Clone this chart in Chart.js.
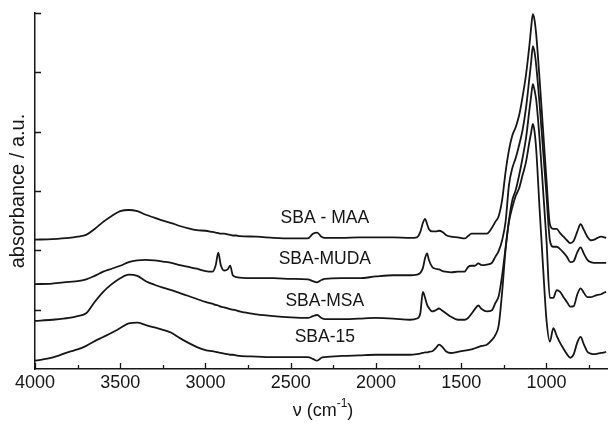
<!DOCTYPE html>
<html>
<head>
<meta charset="utf-8">
<script src="https://cdn.jsdelivr.net/npm/chart.js@4.4.0/dist/chart.umd.min.js"></script>
<style>
  html, body { margin: 0; padding: 0; background: #fff; }
  #wrap { width: 608px; height: 424px; }
</style>
</head>
<body>
<div id="wrap"><canvas id="chart" width="608" height="424"></canvas></div>
<script>
/* FTIR spectra (stacked, arbitrary units) */

const wavenumbers = [4000, 3900, 3800, 3750, 3700, 3650, 3600, 3550, 3500, 3450,
  3400, 3350, 3300, 3250, 3200, 3150, 3100, 3050, 3000, 2960,
  2940, 2925, 2910, 2890, 2870, 2855, 2840, 2820, 2800, 2700,
  2600, 2500, 2400, 2370, 2345, 2320, 2300, 2200, 2100, 2000,
  1900, 1800, 1760, 1740, 1725, 1712, 1700, 1690, 1670, 1650,
  1630, 1610, 1590, 1560, 1520, 1480, 1460, 1440, 1420, 1400,
  1380, 1350, 1320, 1300, 1280, 1260, 1240, 1220, 1200, 1180,
  1160, 1140, 1120, 1100, 1090, 1080, 1070, 1060, 1040, 1020,
  1000, 980, 960, 940, 920, 900, 880, 860, 840, 820,
  800, 780, 760, 740, 720, 700, 680, 660, 650];

const sbaMaa = [2.18, 2.19, 2.21, 2.23, 2.26, 2.36, 2.48, 2.58, 2.66, 2.68,
  2.66, 2.60, 2.55, 2.50, 2.46, 2.41, 2.37, 2.34, 2.33, 2.31,
  2.30, 2.29, 2.28, 2.28, 2.27, 2.26, 2.25, 2.25, 2.24, 2.23,
  2.21, 2.20, 2.20, 2.28, 2.30, 2.23, 2.21, 2.21, 2.22, 2.22,
  2.22, 2.21, 2.22, 2.31, 2.46, 2.53, 2.44, 2.36, 2.32, 2.32,
  2.33, 2.31, 2.26, 2.23, 2.22, 2.20, 2.24, 2.28, 2.28, 2.28,
  2.28, 2.28, 2.38, 2.48, 2.58, 2.85, 3.32, 3.69, 3.94, 4.08,
  4.28, 4.59, 4.96, 5.46, 5.75, 5.98, 5.88, 5.63, 4.87, 4.03,
  3.19, 2.44, 2.36, 2.36, 2.29, 2.23, 2.17, 2.12, 2.16, 2.31,
  2.44, 2.34, 2.23, 2.17, 2.18, 2.21, 2.23, 2.22, 2.21];

const sbaMuda = [1.43, 1.44, 1.47, 1.48, 1.51, 1.57, 1.64, 1.69, 1.74, 1.80,
  1.83, 1.84, 1.83, 1.81, 1.79, 1.75, 1.72, 1.69, 1.65, 1.64,
  1.75, 1.96, 1.75, 1.66, 1.68, 1.74, 1.58, 1.55, 1.54, 1.53,
  1.53, 1.52, 1.51, 1.48, 1.46, 1.50, 1.52, 1.53, 1.53, 1.56,
  1.58, 1.58, 1.59, 1.62, 1.70, 1.87, 1.95, 1.84, 1.72, 1.69,
  1.68, 1.65, 1.64, 1.63, 1.64, 1.64, 1.72, 1.74, 1.74, 1.78,
  1.75, 1.76, 1.79, 1.89, 1.99, 2.17, 2.48, 3.10, 3.39, 3.56,
  3.78, 4.03, 4.40, 4.91, 5.17, 5.44, 5.34, 5.11, 4.45, 3.69,
  2.93, 2.17, 2.06, 2.06, 2.02, 1.96, 1.89, 1.80, 1.82, 1.96,
  2.05, 1.94, 1.84, 1.80, 1.79, 1.79, 1.79, 1.79, 1.79];

const sbaMsa = [0.81, 0.83, 0.86, 0.89, 0.94, 1.13, 1.30, 1.43, 1.53, 1.59,
  1.57, 1.48, 1.42, 1.37, 1.33, 1.28, 1.23, 1.18, 1.13, 1.10,
  1.08, 1.07, 1.05, 1.04, 1.02, 1.01, 1.00, 0.99, 0.97, 0.92,
  0.89, 0.87, 0.86, 0.89, 0.91, 0.86, 0.84, 0.84, 0.85, 0.86,
  0.85, 0.83, 0.85, 0.94, 1.30, 1.20, 1.08, 1.03, 0.97, 0.99,
  1.02, 0.98, 0.94, 0.88, 0.83, 0.83, 0.86, 0.93, 1.01, 1.07,
  1.01, 0.97, 0.99, 1.11, 1.23, 1.58, 2.04, 2.51, 2.85, 3.02,
  3.27, 3.56, 3.89, 4.37, 4.60, 4.80, 4.70, 4.53, 3.86, 3.02,
  2.17, 1.20, 1.20, 1.33, 1.30, 1.21, 1.13, 1.05, 1.06, 1.25,
  1.36, 1.28, 1.21, 1.21, 1.23, 1.25, 1.26, 1.29, 1.30];

const sba15 = [0.14, 0.19, 0.29, 0.33, 0.39, 0.47, 0.54, 0.61, 0.69, 0.77,
  0.78, 0.74, 0.70, 0.66, 0.61, 0.52, 0.44, 0.37, 0.32, 0.30,
  0.29, 0.28, 0.27, 0.26, 0.25, 0.24, 0.24, 0.23, 0.22, 0.21,
  0.20, 0.20, 0.20, 0.17, 0.14, 0.19, 0.20, 0.22, 0.23, 0.24,
  0.24, 0.24, 0.25, 0.26, 0.27, 0.28, 0.28, 0.29, 0.30, 0.35,
  0.41, 0.37, 0.30, 0.27, 0.29, 0.31, 0.32, 0.33, 0.35, 0.37,
  0.39, 0.41, 0.49, 0.57, 0.74, 1.30, 2.01, 2.48, 2.73, 2.92,
  3.05, 3.27, 3.49, 3.83, 3.98, 4.13, 4.00, 3.69, 2.68, 1.72,
  0.83, 0.46, 0.69, 0.56, 0.44, 0.34, 0.25, 0.19, 0.25, 0.44,
  0.54, 0.41, 0.29, 0.26, 0.25, 0.26, 0.27, 0.28, 0.29];

const seriesNames = ["SBA - MAA", "SBA-MUDA", "SBA-MSA", "SBA-15"];
const seriesValues = [sbaMaa, sbaMuda, sbaMsa, sba15];
// where each name sits, in axis units (wavenumber, absorbance)
const nameAnchorX = 2300;
const nameAnchorY = [2.54, 1.85, 1.15, 0.53];

const majorTicks = [4000, 3500, 3000, 2500, 2000, 1500, 1000];
const minorTicks = [3750, 3250, 2750, 2250, 1750, 1250, 750];
const yTicks = [1, 2, 3, 4, 5, 6];

const FONT = '"Liberation Sans", Arial, Helvetica, sans-serif';
const INK = "#161616";

// ticks pointing inwards, curve names, axis titles
const decorations = {
  id: "decorations",
  afterDraw(chart) {
    const { ctx, chartArea: a, scales: { x, y } } = chart;
    ctx.save();
    ctx.strokeStyle = INK;
    ctx.lineWidth = 1.3;
    ctx.beginPath();
    majorTicks.forEach(v => {
      const px = Math.round(x.getPixelForValue(v)) + 0.5;
      ctx.moveTo(px, a.bottom); ctx.lineTo(px, a.bottom - 6);
    });
    minorTicks.forEach(v => {
      const px = Math.round(x.getPixelForValue(v)) + 0.5;
      ctx.moveTo(px, a.bottom); ctx.lineTo(px, a.bottom - 4);
    });
    yTicks.forEach(v => {
      const py = Math.round(y.getPixelForValue(v)) + 0.5;
      ctx.moveTo(a.left, py); ctx.lineTo(a.left + 6, py);
    });
    ctx.stroke();

    ctx.fillStyle = INK;
    ctx.textAlign = "center";
    ctx.textBaseline = "middle";
    ctx.font = "17.5px " + FONT;
    seriesNames.forEach((name, i) => {
      ctx.fillText(name, x.getPixelForValue(nameAnchorX), y.getPixelForValue(nameAnchorY[i]));
    });

    // x title with superscript
    const cx = (a.left + a.right) / 2 + 2;
    const ty = 411;
    ctx.font = "18px " + FONT;
    const w1 = ctx.measureText("ν (cm").width;
    const w3 = ctx.measureText(")").width;
    ctx.font = "12px " + FONT;
    const w2 = ctx.measureText("-1").width;
    const start = cx - (w1 + w2 + w3) / 2;
    ctx.textAlign = "left";
    ctx.font = "18px " + FONT;
    ctx.fillText("ν (cm", start, ty);
    ctx.fillText(")", start + w1 + w2, ty);
    ctx.font = "12px " + FONT;
    ctx.fillText("-1", start + w1, ty - 7);

    // y title
    ctx.translate(18, 191);
    ctx.rotate(-Math.PI / 2);
    ctx.textAlign = "center";
    ctx.font = "20px " + FONT;
    ctx.fillText("absorbance / a.u.", 0, 0);
    ctx.restore();
  }
};

const datasets = seriesValues.map((vals, i) => ({
  label: seriesNames[i],
  data: wavenumbers.map((w, k) => ({ x: w, y: vals[k] })),
  borderColor: INK,
  borderWidth: 1.8,
  pointRadius: 0,
  fill: false,
  cubicInterpolationMode: "monotone",
  clip: false
}));

new Chart(document.getElementById("chart"), {
  type: "line",
  data: { datasets },
  options: {
    responsive: false,
    animation: false,
    layout: { padding: { top: 13, right: 1, left: 0, bottom: 0 } },
    plugins: { legend: { display: false }, tooltip: { enabled: false } },
    scales: {
      x: {
        type: "linear", reverse: true, min: 645, max: 4000,
        afterBuildTicks: s => { s.ticks = majorTicks.map(v => ({ value: v })); },
        afterFit: s => { s.height = 55; },
        grid: { display: false, drawTicks: false },
        border: { display: true, color: INK, width: 1.5 },
        ticks: {
          color: INK, padding: 3, maxRotation: 0, autoSkip: false,
          font: { size: 18, family: FONT },
          callback: v => String(v)
        }
      },
      y: {
        min: 0, max: 6,
        afterFit: s => { s.width = 35; },
        grid: { display: false, drawTicks: false },
        border: { display: true, color: INK, width: 1.5 },
        ticks: { display: false }
      }
    }
  },
  plugins: [decorations]
});
</script>
</body>
</html>
